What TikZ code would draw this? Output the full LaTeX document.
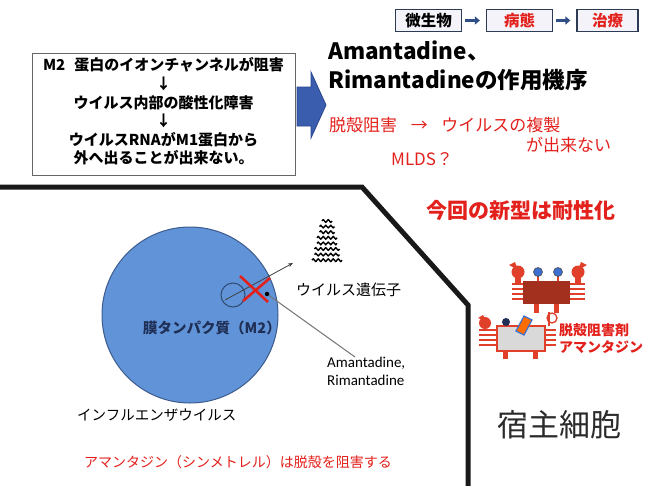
\documentclass[tikz,border=0pt]{standalone}
\usepackage{fontspec}
\setmainfont{Noto Sans CJK JP}
\newfontfamily\latfont{Carlito}
\usetikzlibrary{arrows.meta,calc}

\definecolor{alarm}{HTML}{E3211C}
\definecolor{flowedge}{HTML}{2E3B55}
\definecolor{flowfill}{HTML}{F5F3FA}
\definecolor{flowarrowc}{HTML}{2F4F86}
\definecolor{bigarrow}{HTML}{3A5DAE}
\definecolor{bigarrowedge}{HTML}{2A4690}
\definecolor{virusfill}{HTML}{6193D8}
\definecolor{virusedge}{HTML}{3D5C8E}
\definecolor{navytxt}{HTML}{1F2F55}
\definecolor{crabred}{HTML}{E0402A}
\definecolor{crabbody}{HTML}{A3301F}
\definecolor{eyeblue}{HTML}{3B6FD0}
\definecolor{hosttxt}{HTML}{2B2B2B}

\tikzset{
  flowbox/.style={draw=flowedge, fill=flowfill, line width=1.2pt, minimum width=66pt,
    minimum height=22pt, inner sep=0pt, font=\bfseries\fontsize{15.5}{18}\selectfont},
  flowlink/.style={draw=flowarrowc, line width=2.6pt, -{Triangle[length=5pt,width=8pt]},
    shorten <=3pt, shorten >=6pt},
  redline/.style={text=alarm, font=\fontsize{17}{20}\selectfont, inner sep=0pt},
  plainlbl/.style={inner sep=0pt, font=\fontsize{14.5}{18}\selectfont},
  wall/.style={line width=5pt, line join=miter, black!90},
  titlefont/.style={anchor=west, inner sep=0pt, font=\bfseries\fontsize{22.5}{26}\selectfont},
  strand/.style={line width=1.4pt, line join=round},
}

\begin{document}
\begin{tikzpicture}[x=1pt,y=-1pt]
\useasboundingbox (0,0) rectangle (645,485);
\clip (0,0) rectangle (645,485);
\fill[white] (0,0) rectangle (645,485);

% flow boxes at the top right
\node[flowbox] (micro) at (428.5,20.5) {微生物};
\node[flowbox, text=alarm] (disease) at (519.5,20.5) {病態};
\node[flowbox, text=alarm, minimum width=61pt] (therapy) at (607.5,20.5) {治療};
\draw[flowlink] (micro) -- (disease);
\draw[flowlink] (disease) -- (therapy);

% mechanism box
\node[draw=black!60, line width=1pt, minimum width=263pt, minimum height=122pt] (mech) at (163.5,114) {};
\node[align=center, inner sep=0pt, font=\bfseries\fontsize{15}{18.6}\selectfont] (mechtxt) at (163.5,111.5)
  {M2\hspace{0.6em}蛋白のイオンチャンネルが阻害\\↓\\ウイルス内部の酸性化障害\\↓\\ウイルスRNAがM1蛋白から\\外へ出ることが出来ない。};

% block arrow
\fill[bigarrow, draw=bigarrowedge, line width=0.8pt]
  (297,87) -- (311,87) -- (311,72) -- (326,105) -- (311,138) -- (311,126) -- (297,126) -- cycle;

% title
\node[titlefont] (title1) at (328,51) {Amantadine、};
\node[titlefont] (title2) at (328,80) {Rimantadineの作用機序};

% red notes
\node[redline, anchor=west] (uncoat) at (329,125) {脱殻阻害\hspace{0.8em}→\hspace{0.8em}ウイルスの複製};
\node[redline, anchor=west] (cannot) at (526,145) {が出来ない};
\node[redline, anchor=west] (mlds) at (391,159) {MLDS？};
\node[redline, anchor=west, font=\bfseries\fontsize{21}{24}\selectfont] (resist) at (426,210) {今回の新型は耐性化};

% host cell membrane
\draw[wall] (-5,187) -- (362,187) -- (468,305) -- (468,495);

% virus particle
\node[circle, fill=virusfill, draw=virusedge, line width=1pt, minimum size=176pt, inner sep=0pt] (virus) at (190,315) {};
\node[circle, draw=virusedge!80!black, line width=1pt, minimum size=24pt, inner sep=0pt] (m2) at (233,295) {};
\coordinate (genetip) at (293,263);
\draw[black!75, line width=0.8pt, -{Stealth[length=5pt,width=4pt]}] ($(m2.center)+(-8,5)$) -- (genetip);
\draw[alarm, line width=2.6pt] (240,276) -- (268,302);
\draw[alarm, line width=2.6pt] (270,278) -- (243,301);
\node[circle, fill=black, inner sep=0pt, minimum size=4.5pt] (drug) at (267,294) {};

% viral genome: wavy strands, narrow at the top and wider below
\foreach \i in {0,...,7} {
  \pgfmathtruncatemacro{\np}{2+round(\i*4/7)}
  \pgfmathsetmacro{\xs}{327-\np*2.5}
  \pgfmathsetmacro{\yy}{221+\i*5.6}
  \draw[strand] (\xs,\yy)
    \foreach \k in {1,...,\np} { -- ++(1.25,-1.4) -- ++(2.5,2.8) -- ++(1.25,-1.4) };
}

% labels
\node[plainlbl, anchor=west, font=\fontsize{15}{18}\selectfont] (genelbl) at (296,290) {ウイルス遺伝子};
\node[plainlbl, text=navytxt, font=\bfseries\fontsize{14.5}{18}\selectfont] (m2lbl) at (212,328) {膜タンパク質（M2）};
\node[plainlbl, anchor=north west, align=left, font=\latfont\fontsize{15}{18}\selectfont] (amalbl) at (327,357) {Amantadine,\\Rimantadine};
\coordinate (amatip) at (355,357);
\draw[black!55, line width=1pt] (drug) -- (amatip);
\node[plainlbl, anchor=west] (flulbl) at (77,415) {インフルエンザウイルス};
\node[plainlbl, anchor=west, text=alarm, font=\fontsize{14}{18}\selectfont] (bottomnote) at (84,462) {アマンタジン（シンメトレル）は脱殻を阻害する};
\node[plainlbl, anchor=west, text=hosttxt, font=\fontsize{31}{34}\selectfont] (host) at (497,425) {宿主細胞};

% crab icon: intact
\foreach \y in {284,289,294,299} {
  \draw[crabred, line width=2.4pt] (512,\y) -- (523,\y);
  \draw[crabred, line width=2.4pt] (570,\y) -- (585,\y);
}
\fill[crabbody] (523,281) rectangle (570,304);
\fill[crabred] (518,272) circle (6.5);
\fill[crabred] (509,265) -- (515,262) -- (518,270) -- cycle;
\fill[crabred] (515,276) rectangle (521,284);
\fill[crabred] (578,272) circle (6.5);
\fill[crabred] (587,265) -- (581,262) -- (578,270) -- cycle;
\fill[crabred] (575,276) rectangle (581,284);
\draw[crabred, line width=2pt] (538,281) -- (538,276);
\draw[crabred, line width=2pt] (558,281) -- (558,276);
\fill[eyeblue, draw=black!70, line width=0.6pt] (538,272) circle (4.5);
\fill[eyeblue, draw=black!70, line width=0.6pt] (558,272) circle (4.5);
\fill[crabred] (534,304) rectangle (539,313);
\fill[crabred] (554,304) rectangle (559,313);

% crab icon: shell removed
\foreach \y in {330,335,340,345} {
  \draw[crabred, line width=2.4pt] (479,\y) -- (497,\y);
  \draw[crabred, line width=2.4pt] (545,\y) -- (556,\y);
}
\fill[black!15, draw=crabred, line width=1.5pt] (497,326) rectangle (545,351);
\fill[crabred] (485,323) circle (6);
\fill[crabred] (478,318) -- (483,315) -- (486,321) -- cycle;
\fill[navytxt] (506,322) circle (4);
\fill[orange!85!red, draw=eyeblue, line width=1.2pt] (516,331) -- (524,316) -- (532,320) -- (524,335) -- cycle;
\draw[crabred, line width=1.3pt] (552,318) circle (5);
\draw[crabred, line width=1.3pt] (549,326) -- (549,312);
\fill[crabred] (503,351) rectangle (508,359);
\fill[crabred] (533,351) rectangle (538,359);
\node[plainlbl, anchor=west, text=alarm, align=left, font=\bfseries\fontsize{14}{17}\selectfont] (crablbl) at (559,339)
  {脱殻阻害剤\\アマンタジン};
\end{tikzpicture}
\end{document}
